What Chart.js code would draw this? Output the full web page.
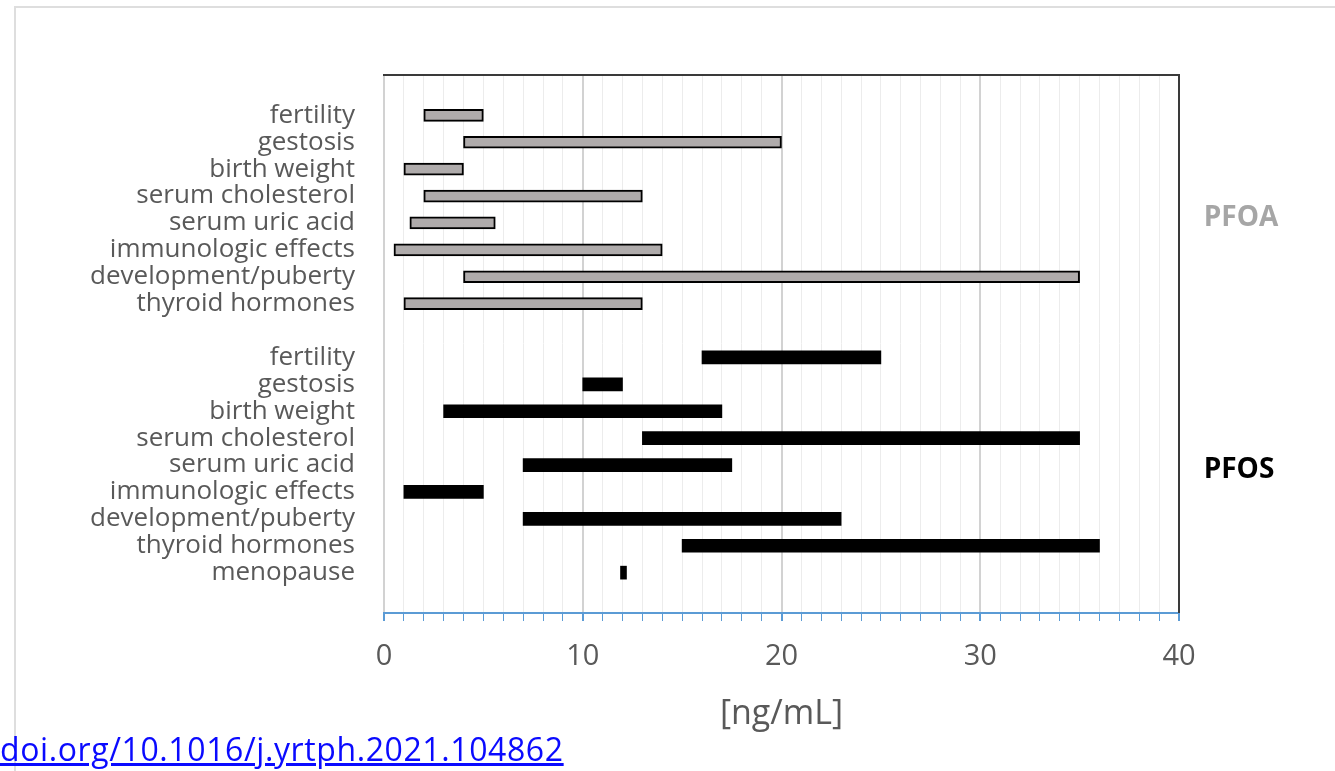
<!DOCTYPE html>
<html>
<head>
<meta charset="utf-8">
<script src="https://cdn.jsdelivr.net/npm/chart.js@4.4.1/dist/chart.umd.min.js"></script>
<style>
  html, body { margin: 0; padding: 0; background: #fff; }
  #wrap { position: relative; width: 1335px; height: 771px; overflow: hidden; }
  #frame { position: absolute; left: 14px; top: 6px; right: 0; bottom: 0;
           border-left: 2px solid #dedede; border-top: 2px solid #dedede; }
  #doi { position: absolute; left: 0; top: 727px; font-family: "Open Sans", sans-serif;
         font-size: 32px; color: #0a0aff; text-decoration: underline; white-space: nowrap;
         letter-spacing: 0.6px; }
</style>
</head>
<body>
<div id="wrap">
  <div id="frame"></div>
  <canvas id="myChart" width="1335" height="771"></canvas>
  <div id="doi">doi.org/10.1016/j.yrtph.2021.104862</div>
</div>
<script>
// rows from top to bottom, '' = empty spacer row
var categories = ['',
    'fertility', 'gestosis', 'birth weight', 'serum cholesterol', 'serum uric acid',
    'immunologic effects', 'development/puberty', 'thyroid hormones',
    '',
    'fertility', 'gestosis', 'birth weight', 'serum cholesterol', 'serum uric acid',
    'immunologic effects', 'development/puberty', 'thyroid hormones', 'menopause',
    ''];

// PFOA ranges [ng/mL], rows 1..8
var pfoaStart = [2, 4, 1, 2, 1.3, 0.5, 4, 1];
var pfoaEnd   = [5, 20, 4, 13, 5.6, 14, 35, 13];

// PFOS ranges [ng/mL], rows 10..18
var pfosStart = [16, 10, 3, 13, 7, 1, 7, 15, 11.9];
var pfosEnd   = [25, 12, 17, 35, 17.5, 5, 23, 36, 12.2];

var xTicks = [0, 10, 20, 30, 40];

function rangeRows(start, end, firstRow) {
    var rows = categories.map(function () { return null; });
    start.forEach(function (s, i) {
        rows[firstRow + i] = [s, end[i]];
    });
    return rows;
}

// top/right frame of the plot and the two group names
var framePlugin = {
    id: 'frame',
    afterDatasetsDraw: function (chart) {
        var ctx = chart.ctx;
        var a = chart.chartArea;
        var y = chart.scales.y;
        ctx.save();
        ctx.strokeStyle = '#3a3a3a';
        ctx.lineWidth = 2;
        ctx.beginPath();
        ctx.moveTo(a.left - 1, a.top);
        ctx.lineTo(a.right, a.top);
        ctx.lineTo(a.right, a.bottom);
        ctx.stroke();

        ctx.font = 'bold 28px "Open Sans"';
        ctx.textAlign = 'center';
        ctx.textBaseline = 'middle';
        ctx.fillStyle = '#a6a6a6';
        ctx.fillText('PFOA', a.right + 62, y.getPixelForValue(4.8));
        ctx.fillStyle = '#000';
        ctx.fillText('PFOS', a.right + 60, y.getPixelForValue(14.2));
        ctx.restore();
    }
};

document.addEventListener('DOMContentLoaded', function () {
    var ctx = document.getElementById('myChart').getContext('2d');

    var myChart = new Chart(ctx, {
        type: 'bar',
        data: {
            labels: categories,
            datasets: [{
                label: 'PFOA',
                data: rangeRows(pfoaStart, pfoaEnd, 1),
                backgroundColor: '#afabab',
                borderColor: '#000',
                borderWidth: 2,
                borderSkipped: false,
                barThickness: 12,
                grouped: false
            }, {
                label: 'PFOS',
                data: rangeRows(pfosStart, pfosEnd, 10),
                backgroundColor: '#000',
                borderWidth: 0,
                barThickness: 13,
                grouped: false
            }]
        },
        options: {
            indexAxis: 'y',
            responsive: false,
            animation: false,
            layout: { padding: { left: 0, top: 75, right: 156, bottom: 0 } },
            plugins: {
                legend: { display: false },
                tooltip: { enabled: false }
            },
            scales: {
                y: {
                    type: 'category',
                    grid: { display: false, drawTicks: false },
                    border: { display: false },
                    ticks: {
                        autoSkip: false,
                        padding: 29,
                        color: '#595959',
                        font: { family: 'Open Sans', size: 26 }
                    },
                    afterFit: function (scale) { scale.width = 384; }
                },
                x: {
                    type: 'linear',
                    min: 0,
                    max: 40,
                    grid: {
                        color: function (c) {
                            return xTicks.indexOf(c.tick.value) >= 0 ? '#d2d2d2' : '#ececec';
                        },
                        lineWidth: function (c) {
                            return xTicks.indexOf(c.tick.value) >= 0 ? 2 : 1;
                        },
                        tickColor: '#5b9bd5',
                        tickLength: 8
                    },
                    border: { color: '#5b9bd5', width: 2 },
                    ticks: {
                        stepSize: 1,
                        autoSkip: false,
                        maxRotation: 0,
                        padding: 18,
                        color: '#595959',
                        font: { family: 'Open Sans', size: 29 },
                        callback: function (v) { return xTicks.indexOf(v) >= 0 ? v : ''; }
                    },
                    title: {
                        display: true,
                        text: '[ng/mL]',
                        color: '#595959',
                        font: { family: 'Open Sans', size: 34 },
                        padding: { top: 0, bottom: 36 }
                    },
                    afterFit: function (scale) { scale.height = 158; }
                }
            }
        },
        plugins: [framePlugin]
    });
});
</script>
</body>
</html>
